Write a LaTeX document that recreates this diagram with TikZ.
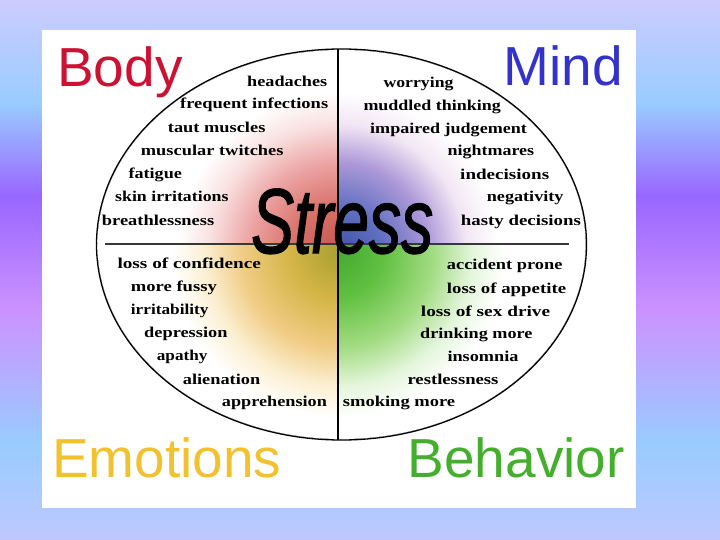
\documentclass[tikz,border=0pt]{standalone}
\usepackage{fontspec}
\usepackage{graphicx}
\newfontfamily\itemfont{Liberation Serif}
\newfontfamily\labelfont{Liberation Sans}
\newfontfamily\stressfont[FakeBold=1.6]{Liberation Sans}
\definecolor{bgA}{HTML}{CCCCFF}
\definecolor{bgB}{HTML}{99CCFF}
\definecolor{bgC}{HTML}{9966FF}
\definecolor{bgD}{HTML}{CC92FF}
\definecolor{bgE}{HTML}{99CCFF}
\definecolor{bgF}{HTML}{BEC8FF}
\definecolor{bodyred}{HTML}{CC1133}
\definecolor{mindblue}{HTML}{3333CC}
\definecolor{emoyellow}{HTML}{F2C12E}
\definecolor{behgreen}{HTML}{44AF2C}
\definecolor{ulA}{HTML}{C05850}
\definecolor{ulB}{HTML}{D87068}
\definecolor{ulC}{HTML}{ECA4A4}
\definecolor{ulD}{HTML}{F9E0E0}
\definecolor{urA}{HTML}{4050A8}
\definecolor{urB}{HTML}{6070C0}
\definecolor{urC}{HTML}{AC98D8}
\definecolor{urD}{HTML}{F2E6F4}
\definecolor{llA}{HTML}{A8A032}
\definecolor{llB}{HTML}{D2B444}
\definecolor{llC}{HTML}{F0CC84}
\definecolor{llD}{HTML}{FCF0D4}
\definecolor{lrA}{HTML}{44AA30}
\definecolor{lrB}{HTML}{60C040}
\definecolor{lrC}{HTML}{A4DC84}
\definecolor{lrD}{HTML}{E4F6DC}
\pgfdeclareradialshading{blobUL}{\pgfpoint{0bp}{0bp}}{color(0bp)=(ulA); color(3.5bp)=(ulB); color(7bp)=(ulC); color(10bp)=(ulD); color(12.5bp)=(white); color(50bp)=(white)}
\pgfdeclareradialshading{blobUR}{\pgfpoint{0bp}{0bp}}{color(0bp)=(urA); color(3.5bp)=(urB); color(7bp)=(urC); color(10bp)=(urD); color(12.5bp)=(white); color(50bp)=(white)}
\pgfdeclareradialshading{blobLL}{\pgfpoint{0bp}{0bp}}{color(0bp)=(llA); color(3.5bp)=(llB); color(7.5bp)=(llC); color(10.5bp)=(llD); color(13bp)=(white); color(50bp)=(white)}
\pgfdeclareradialshading{blobLR}{\pgfpoint{0bp}{0bp}}{color(0bp)=(lrA); color(3.5bp)=(lrB); color(7.5bp)=(lrC); color(10.5bp)=(lrD); color(13bp)=(white); color(50bp)=(white)}
\newcommand\sx[2]{\resizebox{#1pt}{\height}{#2}}
\tikzset{
  itm/.style={anchor=base west, inner sep=0pt, font=\itemfont\bfseries\fontsize{15}{15}\selectfont},
  biglabel/.style={inner sep=0pt, font=\labelfont\fontsize{55}{55}\selectfont},
  divline/.style={line width=2pt, draw=black!78},
}
\begin{document}
\begin{tikzpicture}[x=1pt,y=-1pt]
\useasboundingbox (0,0) rectangle (720,540);
% background gradient
\shade[top color=bgA, bottom color=bgB] (0,0) rectangle (720,103.5);
\shade[top color=bgB, bottom color=bgC] (0,103) rectangle (720,196.5);
\shade[top color=bgC, bottom color=bgD] (0,196) rectangle (720,310.5);
\shade[top color=bgD, bottom color=bgE] (0,310) rectangle (720,444.5);
\shade[top color=bgE, bottom color=bgF] (0,444) rectangle (720,540);
% white panel
\fill[white] (42,30) rectangle (636,508);
% colour blob
\coordinate (bc) at (338,252);
\begin{scope}
  \clip (341.5,244.5) ellipse [x radius=244pt, y radius=194.5pt];
  \begin{scope}
    \clip (42,30) rectangle (338,243.5);
    \fill[shading=blobUL] (bc) circle (320pt);
  \end{scope}
  \begin{scope}
    \clip (338,30) rectangle (636,243.5);
    \fill[shading=blobUR] (bc) circle (320pt);
  \end{scope}
  \begin{scope}
    \clip (42,243.5) rectangle (338,508);
    \fill[shading=blobLL] (bc) circle (320pt);
  \end{scope}
  \begin{scope}
    \clip (338,243.5) rectangle (636,508);
    \fill[shading=blobLR] (bc) circle (320pt);
  \end{scope}
\end{scope}
% ellipse and dividers
\draw[line width=1.3pt] (341.5,244.5) ellipse [x radius=245pt, y radius=195.5pt];
\coordinate (vtop) at (338,49);
\coordinate (vbot) at (338,440);
\coordinate (hlft) at (105,243.5);
\coordinate (hrgt) at (569,243.5);
\draw[divline] (hlft) -- (hrgt);
\draw[line width=2pt] (vtop) -- (vbot);
% Stress
\node[anchor=base west, inner sep=0pt, font=\stressfont\itshape\fontsize{92}{92}\selectfont] (stress) at (251,253) {\sx{182}{Stress}};
% big labels
\node[biglabel, anchor=base west, text=bodyred] (body) at (57,87) {Body};
\node[biglabel, anchor=base east, text=mindblue] (mind) at (623,86) {Mind};
\node[biglabel, anchor=base west, text=emoyellow] (emotions) at (52,477) {Emotions};
\node[biglabel, anchor=base east, text=behgreen] (behavior) at (625,477) {Behavior};
% Body items
\node[itm] (b1) at (247,86.5) {\sx{80}{headaches}};
\node[itm] (b2) at (180,109) {\sx{148}{frequent infections}};
\node[itm] (b3) at (167.7,132.3) {\sx{97.5}{taut muscles}};
\node[itm] (b4) at (140.7,155.7) {\sx{142.6}{muscular twitches}};
\node[itm] (b5) at (128.3,179) {\sx{53.4}{fatigue}};
\node[itm] (b6) at (115,201.7) {\sx{113.3}{skin irritations}};
\node[itm] (b7) at (101.7,225) {\sx{112.3}{breathlessness}};
% Mind items
\node[itm] (m1) at (383.3,88) {\sx{70}{worrying}};
\node[itm] (m2) at (363.3,111) {\sx{137.4}{muddled thinking}};
\node[itm] (m3) at (370,133.3) {\sx{156.7}{impaired judgement}};
\node[itm] (m4) at (447.3,156) {\sx{86.7}{nightmares}};
\node[itm] (m5) at (460,179) {\sx{89}{indecisions}};
\node[itm] (m6) at (486.7,201.7) {\sx{76.6}{negativity}};
\node[itm] (m7) at (460.7,225) {\sx{120}{hasty decisions}};
% Emotions items
\node[itm] (e1) at (117.3,268.3) {\sx{143.4}{loss of confidence}};
\node[itm] (e2) at (130.7,291.7) {\sx{86}{more fussy}};
\node[itm] (e3) at (130.7,314) {\sx{77.6}{irritability}};
\node[itm] (e4) at (144,337.3) {\sx{83.3}{depression}};
\node[itm] (e5) at (156.7,360) {\sx{50.6}{apathy}};
\node[itm] (e6) at (182.7,384) {\sx{77.3}{alienation}};
\node[itm] (e7) at (221.7,406.7) {\sx{105}{apprehension}};
% Behavior items
\node[itm] (h1) at (446.7,269.3) {\sx{115.6}{accident prone}};
\node[itm] (h2) at (446.7,293.3) {\sx{119.3}{loss of appetite}};
\node[itm] (h3) at (420.7,316) {\sx{129.3}{loss of sex drive}};
\node[itm] (h4) at (420,338.3) {\sx{112.3}{drinking more}};
\node[itm] (h5) at (447.3,361.7) {\sx{71}{insomnia}};
\node[itm] (h6) at (407.3,384.3) {\sx{91}{restlessness}};
\node[itm] (h7) at (342.7,406.7) {\sx{112.3}{smoking more}};
\end{tikzpicture}
\end{document}
